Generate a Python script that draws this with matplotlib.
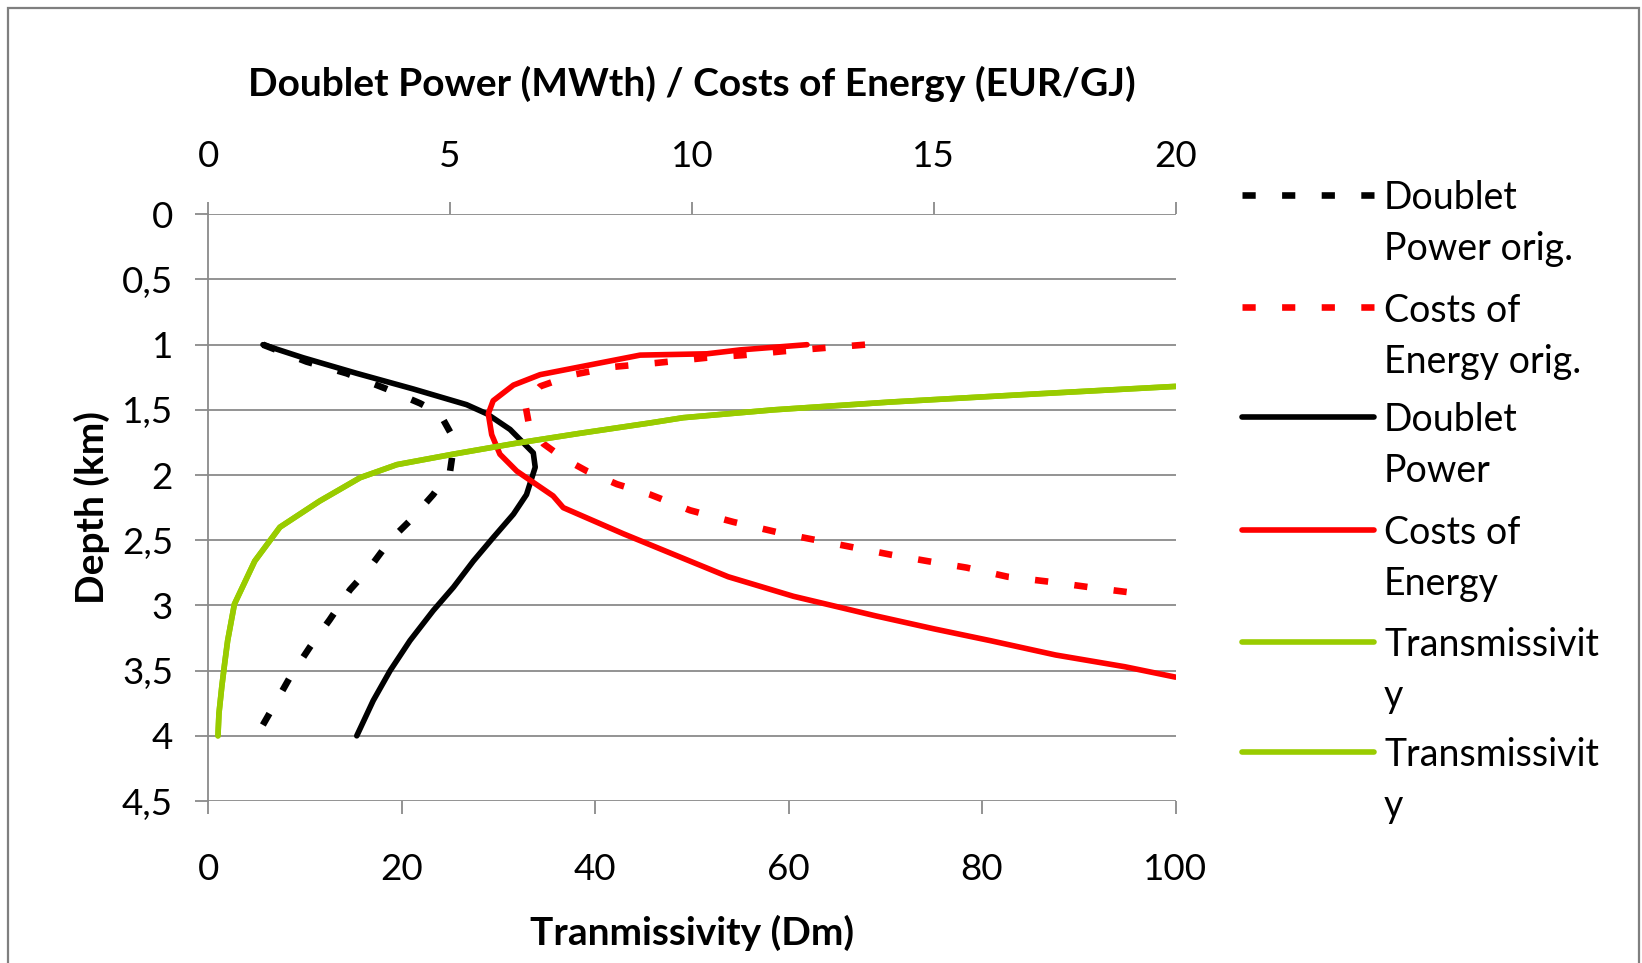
import numpy as np
import matplotlib
matplotlib.use("Agg")
import matplotlib.pyplot as plt
from matplotlib.lines import Line2D
from matplotlib.patches import Rectangle

plt.rcParams['font.family'] = ['Lato', 'DejaVu Sans']

# ---------------- data ----------------
depth_power = [1.0, 1.10, 1.22, 1.34, 1.46, 1.53, 1.65, 1.83, 1.94, 2.15, 2.30, 2.48,
               2.66, 2.86, 3.04, 3.27, 3.50, 3.73, 4.0]
power_new = [1.13, 1.96, 3.07, 4.24, 5.34, 5.76, 6.24, 6.72, 6.76, 6.58, 6.31, 5.89,
             5.48, 5.07, 4.65, 4.17, 3.76, 3.41, 3.07]

depth_power_orig = [1.0, 1.13, 1.22, 1.34, 1.45, 1.53, 1.69, 1.79, 1.97, 2.15, 2.35, 2.50,
                    2.71, 2.88, 3.11, 3.32, 3.55, 3.78, 4.0]
power_orig = [1.13, 2.03, 2.86, 3.69, 4.38, 4.79, 5.03, 5.07, 5.0, 4.65, 4.17, 3.76,
              3.34, 2.93, 2.51, 2.10, 1.69, 1.34, 1.0]

depth_cost = [1.0, 1.04, 1.07, 1.08, 1.13, 1.23, 1.31, 1.43, 1.53, 1.69, 1.84, 1.97,
              2.16, 2.25, 2.45, 2.66, 2.78, 2.93, 3.08, 3.18, 3.27, 3.38, 3.47, 3.55]
cost_new = [12.38, 11.0, 10.31, 8.93, 8.24, 6.86, 6.31, 5.89, 5.79, 5.86, 6.03, 6.38,
            7.13, 7.34, 8.58, 9.96, 10.75, 12.1, 13.8, 15.01, 16.17, 17.52, 18.95, 20.0]

depth_cost_orig = [1.0, 1.05, 1.08, 1.10, 1.14, 1.17, 1.23, 1.32, 1.45, 1.59, 1.76, 1.87,
                   1.97, 2.07, 2.15, 2.27, 2.36, 2.45, 2.52, 2.61, 2.66, 2.71, 2.78, 2.82,
                   2.87, 2.92]
cost_orig = [13.58, 11.9, 11.07, 10.31, 9.27, 8.38, 7.55, 6.86, 6.55, 6.62, 6.93, 7.34,
             7.83, 8.45, 9.14, 9.96, 10.86, 11.9, 12.86, 14.1, 14.87, 15.68, 16.53, 17.43,
             18.41, 19.49]

depth_trans = [1.32, 1.38, 1.44, 1.50, 1.56, 1.60, 1.68, 1.76, 1.84, 1.92, 2.02, 2.20,
               2.40, 2.66, 2.99, 3.27, 3.44, 3.62, 3.83, 4.0]
transmissivity = [100, 85, 70.5, 58.4, 49.1, 45.7, 38.4, 31.5, 25.3, 19.5, 15.7, 11.5,
                  7.4, 4.8, 2.7, 2.0, 1.7, 1.4, 1.1, 1.0]

depth_ticks = [0, 0.5, 1, 1.5, 2, 2.5, 3, 3.5, 4, 4.5]
depth_labels = ['0', '0,5', '1', '1,5', '2', '2,5', '3', '3,5', '4', '4,5']
top_ticks = [0, 5, 10, 15, 20]
bottom_ticks = [0, 20, 40, 60, 80, 100]

legend_labels = ["Doublet\nPower orig.", "Costs of\nEnergy orig.", "Doublet\nPower",
                 "Costs of\nEnergy", "Transmissivit\ny", "Transmissivit\ny"]

title_top = "Doublet Power (MWth) / Costs of Energy (EUR/GJ)"
title_bottom = "Tranmissivity (Dm)"
title_left = "Depth (km)"

# ---------------- style ----------------
W, H = 1642, 963
GREY = '#8a8a8a'
RED = '#ff0000'
GREEN = '#99cc00'
FS = 26.5
FS_T = 28
FS_L = 27
px = 72.0 / 100  # points per pixel

fig = plt.figure(figsize=(W / 100, H / 100), dpi=100)
x0, x1, y0, y1 = 208.3, 1175.5, 214.3, 801.0
rect = [x0 / W, 1 - y1 / H, (x1 - x0) / W, (y1 - y0) / H]

# axis for power / cost (top scale)
axp = fig.add_axes(rect)
axp.set_xlim(0, 20)
axp.set_ylim(4.5, 0)
axp.xaxis.tick_top()
axp.set_xticks(top_ticks)
axp.set_yticks(depth_ticks)
axp.set_yticklabels(depth_labels)
for s in ['right', 'bottom', 'top']:
    axp.spines[s].set_visible(False)
axp.spines['left'].set_color(GREY)
axp.spines['left'].set_linewidth(1.3)
axp.grid(axis='y', color=GREY, linewidth=1.3)
axp.set_axisbelow(True)
axp.tick_params(axis='y', direction='out', length=13 * px, width=1.3, color=GREY,
                labelsize=FS, pad=16)
axp.tick_params(axis='x', direction='out', length=12 * px, width=1.3, color=GREY,
                labelsize=FS, pad=21, top=True, bottom=False, labeltop=True, labelbottom=False)

dash = (2.0, 4.0)
lw_s = 5.6 * px
lw_d = 6.6 * px
l_po, = axp.plot(power_orig, depth_power_orig, color='black', lw=lw_d, dashes=dash,
                 dash_capstyle='butt')
l_co, = axp.plot(cost_orig, depth_cost_orig, color=RED, lw=lw_d, dashes=dash,
                 dash_capstyle='butt')
l_pn, = axp.plot(power_new, depth_power, color='black', lw=lw_s, solid_capstyle='round')
l_cn, = axp.plot(cost_new, depth_cost, color=RED, lw=lw_s, solid_capstyle='round')

# axis for transmissivity (bottom scale)
axt = fig.add_axes(rect, facecolor='none')
axt.set_xlim(0, 100)
axt.set_ylim(4.5, 0)
axt.set_xticks(bottom_ticks)
axt.set_yticks([])
for s in ['right', 'left', 'top', 'bottom']:
    axt.spines[s].set_visible(False)
axt.tick_params(axis='x', direction='out', length=13 * px, width=1.3, color=GREY,
                labelsize=FS, pad=28)
l_t1, = axt.plot(transmissivity, depth_trans, color=GREEN, lw=lw_s, solid_capstyle='round')
l_t2, = axt.plot(transmissivity, depth_trans, color=GREEN, lw=lw_s, solid_capstyle='round')

# titles
fig.text(692 / W, 1 - 84 / H, title_top, ha='center', va='center', fontsize=FS_T,
         fontweight='bold')
fig.text(692 / W, 1 - 933 / H, title_bottom, ha='center', va='center', fontsize=FS_T,
         fontweight='bold')
fig.text(92 / W, 1 - 508 / H, title_left, ha='center', va='center', fontsize=FS_T,
         fontweight='bold', rotation=90)

# legend (manual, handles aligned to first text line)
handles = [l_po, l_co, l_pn, l_cn, l_t1, l_t2]
row_y = [195, 307.5, 417, 530, 642.5, 752]
for h, lab, yy in zip(handles, legend_labels, row_y):
    ln = Line2D([1242 / W, 1374 / W], [1 - yy / H, 1 - yy / H], transform=fig.transFigure,
                color=h.get_color(), lw=h.get_linewidth(), linestyle=h.get_linestyle(),
                solid_capstyle='round', dash_capstyle='butt')
    if h.get_linestyle() != '-':
        ln.set_dashes(dash)
    fig.add_artist(ln)
    for k, part in enumerate(lab.split('\n')):
        fig.text(1384 / W, 1 - (yy + 3 + 51 * k) / H, part, ha='left', va='center',
                 fontsize=FS_L)

# outer border
fig.add_artist(Rectangle((8.3 / W, -0.05), (1639 - 8.3) / W, 1.05 - 8.3 / H,
                         transform=fig.transFigure, fill=False, edgecolor='#7f7f7f', lw=1.6))

fig.savefig('out.png', dpi=100)
